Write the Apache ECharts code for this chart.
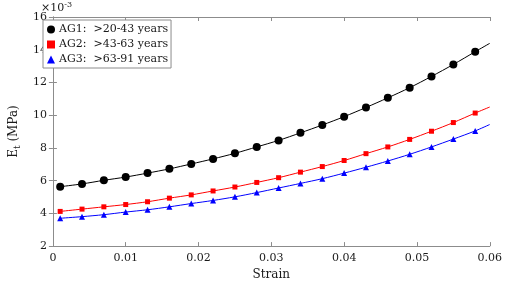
<!DOCTYPE html>
<html>
<head>
<meta charset="utf-8">
<script src="https://cdn.jsdelivr.net/npm/echarts@6/dist/echarts.min.js"></script>
<style>html,body{margin:0;padding:0;background:#fff}#c{width:505px;height:286px}</style>
</head>
<body>
<div id="c"></div>
<script>
const strain = [0.001,0.004,0.007,0.010,0.013,0.016,0.019,0.022,0.025,0.028,0.031,0.034,0.037,0.040,0.043,0.046,0.049,0.052,0.055,0.058];
const endStrain = 0.06;
const ag1 = [5.63,5.80,6.02,6.22,6.46,6.72,7.02,7.33,7.67,8.06,8.46,8.92,9.40,9.91,10.47,11.06,11.68,12.37,13.10,13.88];
const ag2 = [4.12,4.26,4.40,4.54,4.71,4.93,5.13,5.37,5.61,5.89,6.18,6.52,6.86,7.23,7.65,8.06,8.52,9.02,9.55,10.13];
const ag3 = [3.70,3.80,3.92,4.08,4.22,4.40,4.60,4.79,5.01,5.27,5.55,5.83,6.12,6.46,6.82,7.20,7.61,8.06,8.54,9.04];
const endValues = [14.39,10.50,9.43];
const names = ['AG1:  >20-43 years','AG2:  >43-63 years','AG3:  >63-91 years'];
const colors = ['#000000','#ff0000','#0000ff'];
const symbols = ['circle','rect','triangle'];
const symSizes = [8,5,6];
const xTicks = [0,0.01,0.02,0.03,0.04,0.05,0.06];
const yTicks = [2,4,6,8,10,12,14,16];

const FONT = 'DejaVu Serif';
const AX = '#8c8c8c';
const TXT = '#1a1a1a';
const all = [ag1, ag2, ag3];
const series = [];
all.forEach((vals, i) => {
  const pts = strain.map((s, j) => [s, vals[j]]);
  series.push({
    type: 'line', name: names[i] + '_line', data: pts.concat([[endStrain, endValues[i]]]),
    smooth: 0.3, showSymbol: false, symbol: 'none',
    lineStyle: {color: colors[i], width: 1}, z: 2, silent: true
  });
  series.push({
    type: 'scatter', name: names[i], data: pts,
    symbol: symbols[i], symbolSize: symSizes[i],
    itemStyle: {color: colors[i], opacity: 1, borderWidth: 0}, z: 3
  });
});

const chart = echarts.init(document.getElementById('c'), null, {renderer: 'canvas'});
const axisCommon = {
  axisLine: {show: true, lineStyle: {color: AX, width: 1}},
  axisTick: {show: true, inside: true, length: 4, lineStyle: {color: AX}},
  splitLine: {show: false}
};
chart.setOption({
  animation: false,
  textStyle: {fontFamily: FONT},
  grid: {left: 41, right: 14, top: 17, bottom: 33},
  xAxis: [
    Object.assign({type: 'value', min: 0, max: 0.06, interval: 0.01,
      name: 'Strain', nameLocation: 'middle', nameGap: 22,
      nameTextStyle: {fontFamily: FONT, fontSize: 12, color: TXT},
      axisLabel: {fontFamily: FONT, fontSize: 11, color: TXT, margin: 7,
        formatter: v => { const t = xTicks.find(x => Math.abs(x - v) < 1e-9); return t === undefined ? '' : String(t); }}
    }, axisCommon),
    Object.assign({type: 'value', min: 0, max: 0.06, interval: 0.01, position: 'top',
      axisLabel: {show: false}}, axisCommon)
  ],
  yAxis: [
    Object.assign({type: 'value', min: 2, max: 16, interval: 2,
      name: '{e|E}{s|t}{e| (MPa)}', nameLocation: 'middle', nameGap: 22, nameRotate: 90,
      nameTextStyle: {fontFamily: FONT, fontSize: 12, color: TXT,
        rich: {e: {fontFamily: FONT, fontSize: 12, color: TXT}, s: {fontFamily: FONT, fontSize: 9, color: TXT, padding: [7, 0, 0, 0]}}},
      axisLabel: {fontFamily: FONT, fontSize: 11, color: TXT, margin: 6,
        formatter: v => yTicks.includes(v) ? String(v) : ''}
    }, axisCommon),
    Object.assign({type: 'value', min: 2, max: 16, interval: 2, position: 'right',
      axisLabel: {show: false}}, axisCommon)
  ],
  legend: {
    data: names.map((n, i) => ({name: n, icon: symbols[i]})),
    orient: 'vertical', left: 43, top: 20,
    backgroundColor: '#fff', borderColor: AX, borderWidth: 1, borderRadius: 0,
    padding: [4, 3, 3, 4], itemGap: 4, itemWidth: 8, itemHeight: 8,
    textStyle: {fontFamily: FONT, fontSize: 11, color: TXT, padding: [0, 0, 0, -1]},
    selectedMode: false
  },
  graphic: [{
    type: 'text', left: 41, top: 1,
    style: {text: '{a|×10}{b|-3}', fontFamily: FONT,
      rich: {a: {fontFamily: FONT, fontSize: 11, fill: TXT}, b: {fontFamily: FONT, fontSize: 8, fill: TXT, padding: [0, 0, 6, 0]}}}
  }],
  series: series
});
</script>
</body>
</html>
